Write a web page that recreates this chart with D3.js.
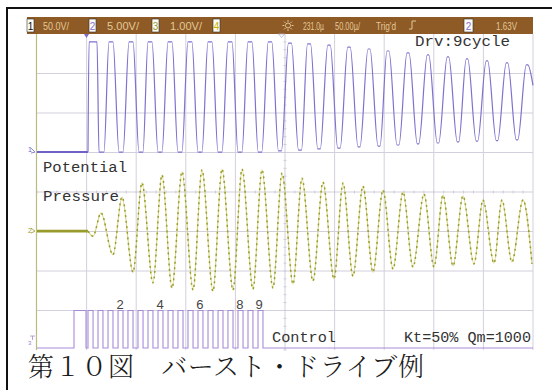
<!DOCTYPE html>
<html><head><meta charset="utf-8">
<script src="https://cdn.jsdelivr.net/npm/d3@7"></script>
<style>
html,body{margin:0;padding:0;background:#fff;}
svg{display:block;}
</style></head>
<body>
<svg id="c" width="552" height="390"></svg>
<script>
// ---------- data (time in µs, 50 µs/div; amplitude in screen divisions) ----------
const timeTicks = [0,50,100,150,200,250,300,350,400,450,500];
const divTicks  = [-4,-3,-2,-1,0,1,2,3,4];

// Potential (ch 1) : peaks / troughs with plateau width (µs)
const potBaseV = 1.01;
const potStartT = 51.4;
const potPeakT  = [56.5,74.6,94.8,113.9,134.1,154.2,174.4,194.6,214.7,234.9,255.0,274.2,294.4,314.5,334.7,353.8,374.0,394.2,414.3,433.5,453.6,473.8,494.0];
const potPeakV  = [3.80,3.80,3.80,3.80,3.80,3.80,3.80,3.80,3.80,3.80,3.77,3.75,3.72,3.67,3.62,3.57,3.52,3.47,3.42,3.37,3.32,3.27,3.22];
const potPeakW  = [8,4,4,4,4,4,4,4,4,3.5,3,3,2.5,2.5,2,2,2,1.5,1.5,1.5,1.5,1.5,1.5];
const potTroughT = [65.0,84.7,104.8,124.0,144.1,164.3,184.5,204.6,224.8,244.9,265.1,284.3,304.4,324.6,344.8,363.9,384.1,404.2,424.4,443.5,463.7,483.9];
const potTroughV = [1.01,1.01,1.01,1.01,1.01,1.01,1.01,1.01,1.01,1.04,1.06,1.09,1.11,1.14,1.16,1.19,1.22,1.24,1.27,1.29,1.30,1.32];
const potTroughW = [5,4,4,4,4,4,4,4,3.5,3,3,2.5,2.5,2,2,2,1.5,1.5,1.5,1.5,1.5,1.5];

// Pressure (ch 2) : alternating extrema
const presBaseV = -0.99;
const presT = [0,51.4,56.5,64.5,76.6,85.7,96.8,105.8,116.9,126.0,136.1,146.2,157.3,166.3,177.4,186.5,197.6,206.7,217.7,226.8,237.9,247.0,258.1,267.1,278.2,288.3,299.4,308.5,318.5,328.6,338.7,348.8,358.9,369.0,379.0,390.1,400.2,409.3,419.4,429.4,440.5,449.6,460.7,468.7,478.8,489.9,499.0];
const presV = [-0.99,-0.99,-1.12,-0.53,-1.59,-0.13,-2.03,0.23,-2.30,0.43,-2.43,0.51,-2.48,0.56,-2.51,0.58,-2.48,0.58,-2.46,0.56,-2.43,0.48,-2.33,0.35,-2.25,0.25,-2.20,0.23,-2.13,0.15,-2.03,0.05,-1.95,0.00,-1.90,-0.05,-1.90,-0.08,-1.87,-0.10,-1.82,-0.20,-1.80,-0.20,-1.77,-0.20,-1.82];

// Control (ch 3) : rising / falling edges
const ctrlLowV = -3.95, ctrlHighV = -3.0;
const ctrlRise = [37.3,51.4,61.5,71.6,81.7,91.7,101.8,111.9,122.0,132.1,142.1,152.2,162.3,172.4,182.5,192.5,202.6,212.7,222.8];
const ctrlFall = [49.4,56.5,66.5,76.6,86.7,96.8,106.9,116.9,127.0,137.1,147.2,157.3,167.3,177.4,187.5,197.6,207.7,217.7,227.8];

// drive cycle count labels
const cycleLabels = ["2","4","6","8","9"];
const cycleT = [83.7,124.0,164.3,204.6,223.8];

// header readout
const headerChannels = ["1","2","3","4"];
const headerScales = ["50.0V/","5.00V/","1.00V/"];
const headerDelay = "231.0\u00b5";
const headerTime = "50.00\u00b5/";
const headerTrig = "Trig'd";
const headerTrigCh = "2";
const headerTrigLevel = "1.63V";

const traceNames = ["Potential","Pressure","Control"];
const noteTop = "Drv:9cycle";
const noteBottom = "Kt=50% Qm=1000";
const caption = "第１０図　バースト・ドライブ例";

// ---------- drawing ----------
const svg = d3.select("#c");
const X0 = 37, X1 = 533, Y0 = 34, Y1 = 350;
const x = d3.scaleLinear().domain([0,500]).range([X0,X1]);
const y = d3.scaleLinear().domain([-4,4]).range([Y1,Y0]);

// outer frame
svg.append("path").attr("d","M7,390 V8 H552").attr("fill","none").attr("stroke","#111").attr("stroke-width",2);

// screen background
svg.append("rect").attr("x",27).attr("y",34).attr("width",506).attr("height",316).attr("fill","#fff");

// grid
const g = svg.append("g");
g.selectAll("line.v").data(timeTicks.slice(1)).join("line")
  .attr("x1",d=>x(d)).attr("x2",d=>x(d)).attr("y1",Y0).attr("y2",Y1)
  .attr("stroke","#d3cfdc").attr("stroke-width",1);
g.selectAll("line.h").data(divTicks.slice(1,-1)).join("line")
  .attr("x1",X0).attr("x2",X1).attr("y1",d=>y(d)).attr("y2",d=>y(d))
  .attr("stroke","#d3cfdc").attr("stroke-width",1);
// minor ticks on centre lines
const minorT = d3.range(0,500,10);
g.selectAll("line.mt").data(minorT).join("line")
  .attr("x1",d=>x(d)).attr("x2",d=>x(d)).attr("y1",y(0)-1.5).attr("y2",y(0)+1.5)
  .attr("stroke","#cfcbd8");
const minorV = d3.range(-4,4,0.2);
g.selectAll("line.mv").data(minorV).join("line")
  .attr("x1",x(250)-1.5).attr("x2",x(250)+1.5).attr("y1",d=>y(d)).attr("y2",d=>y(d))
  .attr("stroke","#cfcbd8");
// left edge line
svg.append("line").attr("x1",x(0)-0.5).attr("x2",x(0)-0.5).attr("y1",Y0).attr("y2",Y1)
  .attr("stroke","#bcbc80").attr("stroke-width",1.2);

// header bar
svg.append("rect").attr("x",27).attr("y",17).attr("width",506).attr("height",17).attr("fill","#8e5a26");
const hdr = svg.append("g").attr("font-family","'Liberation Sans Narrow','Liberation Sans',Arial,sans-serif").attr("font-size",10.5).attr("fill","#e2c998");
const boxX = [27,89,152,213];
const boxCol = ["#111","#8a6fd0","#9a9a2a","#c9b000"];
headerChannels.forEach((c,i)=>{
  hdr.append("rect").attr("x",boxX[i]).attr("y",19).attr("width",7).attr("height",13).attr("fill","#fbfbf4").attr("stroke","#333").attr("stroke-width",0.6);
  hdr.append("text").attr("x",boxX[i]+3.5).attr("y",29.5).attr("text-anchor","middle").attr("fill",boxCol[i]).attr("font-size",10).text(c);
});
const scaleX = [43,107,170];
headerScales.forEach((s,i)=>hdr.append("text").attr("x",scaleX[i]).attr("y",29.5).attr("textLength",i===0?26:32).attr("lengthAdjust","spacingAndGlyphs").text(s));
// sun / delay icon
const sun = hdr.append("g").attr("transform","translate(288,25.5)").attr("stroke","#e2c998").attr("stroke-width",1);
sun.append("circle").attr("r",2.5).attr("fill","none");
d3.range(0,360,45).forEach(a=>{const r=a*Math.PI/180; sun.append("line").attr("x1",3.6*Math.cos(r)).attr("y1",3.6*Math.sin(r)).attr("x2",5.5*Math.cos(r)).attr("y2",5.5*Math.sin(r));});
hdr.append("text").attr("x",303).attr("y",29.5).attr("textLength",21).attr("lengthAdjust","spacingAndGlyphs").text(headerDelay);
hdr.append("text").attr("x",335).attr("y",29.5).attr("textLength",25).attr("lengthAdjust","spacingAndGlyphs").text(headerTime);
hdr.append("text").attr("x",376).attr("y",29.5).attr("textLength",20).attr("lengthAdjust","spacingAndGlyphs").text(headerTrig);
hdr.append("path").attr("d","M409,29 H412 V21 H416").attr("fill","none").attr("stroke","#e2c998").attr("stroke-width",1);
hdr.append("rect").attr("x",464).attr("y",19).attr("width",9).attr("height",13).attr("fill","#fbfbf4").attr("stroke","#333").attr("stroke-width",0.6);
hdr.append("text").attr("x",468.5).attr("y",29.5).attr("text-anchor","middle").attr("fill","#8a6fd0").attr("font-size",10).text(headerTrigCh);
hdr.append("text").attr("x",496).attr("y",29.5).attr("textLength",21).attr("lengthAdjust","spacingAndGlyphs").text(headerTrigLevel);

// top markers
svg.append("path").attr("d",`M${x(potStartT)-4},34 L${x(potStartT)+1},34 L${x(potStartT)-1.5},38 Z`).attr("fill","#7a6cc8");
svg.append("path").attr("d",`M${x(246.5)-3},34 L${x(246.5)+3},34 L${x(246.5)},37.5 Z`).attr("fill","none").attr("stroke","#b8b0cc").attr("stroke-width",0.8);

// ground markers
const gm = svg.append("g").attr("font-family","Liberation Sans,Arial,sans-serif").attr("font-size",7);
gm.append("text").attr("x",28).attr("y",y(potBaseV)).attr("fill","#6f62c0").text("1");
gm.append("path").attr("d",`M31,${y(potBaseV)-4} L35,${y(potBaseV)} L31,${y(potBaseV)+1}`).attr("fill","none").attr("stroke","#6f62c0").attr("stroke-width",0.8);
gm.append("text").attr("x",28).attr("y",y(presBaseV)+2).attr("fill","#9a9a2a").text("2");
gm.append("path").attr("d",`M31,${y(presBaseV)-3} L35,${y(presBaseV)} L31,${y(presBaseV)+2}`).attr("fill","none").attr("stroke","#9a9a2a").attr("stroke-width",0.8);
gm.append("text").attr("x",28).attr("y",y(ctrlLowV)-3).attr("fill","#9d7fc8").attr("font-size",6).text("3");
gm.append("path").attr("d",`M30,${y(ctrlLowV)-12} H35 M32.5,${y(ctrlLowV)-12} V${y(ctrlLowV)-8}`).attr("fill","none").attr("stroke","#9d7fc8").attr("stroke-width",0.7);

// ---- potential trace ----
const potPts = [[0,potBaseV],[potStartT,potBaseV]];
potPeakT.forEach((t,i)=>{
  potPts.push([t-potPeakW[i]/2,potPeakV[i]],[t+potPeakW[i]/2,potPeakV[i]]);
  if(i<potTroughT.length) potPts.push([potTroughT[i]-potTroughW[i]/2,potTroughV[i]],[potTroughT[i]+potTroughW[i]/2,potTroughV[i]]);
});
potPts.push([500,2.7]);
const lineGen = d3.line().x(d=>x(d[0])).y(d=>y(d[1]));
svg.append("path").datum(potPts.slice(0,2)).attr("d",lineGen).attr("fill","none").attr("stroke","#6e62c6").attr("stroke-width",2);
svg.append("path").datum(potPts.slice(1)).attr("d",lineGen.curve(d3.curveMonotoneX)).attr("fill","none").attr("stroke","#7d72cf").attr("stroke-width",1.2);

// ---- pressure trace ----
const presPts = presT.map((t,i)=>[t,presV[i]]);
const lg2 = d3.line().x(d=>x(d[0])).y(d=>y(d[1])).curve(d3.curveMonotoneX);
svg.append("path").datum(presPts.slice(0,2)).attr("d",d3.line().x(d=>x(d[0])).y(d=>y(d[1]))).attr("fill","none").attr("stroke","#999a2c").attr("stroke-width",2.6);
svg.append("path").datum(presPts.slice(1)).attr("d",lg2).attr("fill","none").attr("stroke","#d3d482").attr("stroke-width",1.1);
svg.append("path").datum(presPts.slice(1)).attr("d",lg2).attr("fill","none").attr("stroke","#9a9c26").attr("stroke-width",1.5).attr("stroke-dasharray","2,3.5");

// ---- control trace ----
const ctrlPts = [[0,ctrlLowV]];
ctrlRise.forEach((t,i)=>{ctrlPts.push([t,ctrlLowV],[t,ctrlHighV],[ctrlFall[i],ctrlHighV],[ctrlFall[i],ctrlLowV]);});
ctrlPts.push([500,ctrlLowV]);
svg.append("path").datum(ctrlPts).attr("d",d3.line().x(d=>x(d[0])).y(d=>y(d[1]))).attr("fill","none").attr("stroke","#a88cd8").attr("stroke-width",1.1);

// cycle labels
svg.append("g").selectAll("text").data(cycleLabels).join("text")
  .attr("x",(d,i)=>x(cycleT[i])).attr("y",309).attr("text-anchor","middle")
  .attr("font-family","'Liberation Sans',Arial,sans-serif").attr("font-size",13).attr("fill","#444").text(d=>d);

// annotations
const mono = "'Liberation Mono','DejaVu Sans Mono',monospace";
const ann = svg.append("g").attr("font-family",mono).attr("font-size",15.5).attr("fill","#333");
ann.append("text").attr("x",415).attr("y",46).attr("textLength",95).attr("lengthAdjust","spacingAndGlyphs").text(noteTop);
ann.append("text").attr("x",43).attr("y",172).attr("textLength",84).attr("lengthAdjust","spacingAndGlyphs").text(traceNames[0]);
ann.append("text").attr("x",43).attr("y",201).attr("textLength",76).attr("lengthAdjust","spacingAndGlyphs").text(traceNames[1]);
ann.append("text").attr("x",272).attr("y",342).attr("textLength",64).attr("lengthAdjust","spacingAndGlyphs").text(traceNames[2]);
ann.append("text").attr("x",404).attr("y",342).attr("textLength",127).attr("lengthAdjust","spacingAndGlyphs").text(noteBottom);

// caption
svg.append("text").attr("x",28).attr("y",376)
  .attr("font-family","'Noto Serif CJK JP','Noto Sans CJK JP',sans-serif").attr("font-weight",300)
  .attr("font-size",26).attr("textLength",396).attr("lengthAdjust","spacing")
  .attr("fill","#1a1a1a").text(caption);
</script>
</body></html>
